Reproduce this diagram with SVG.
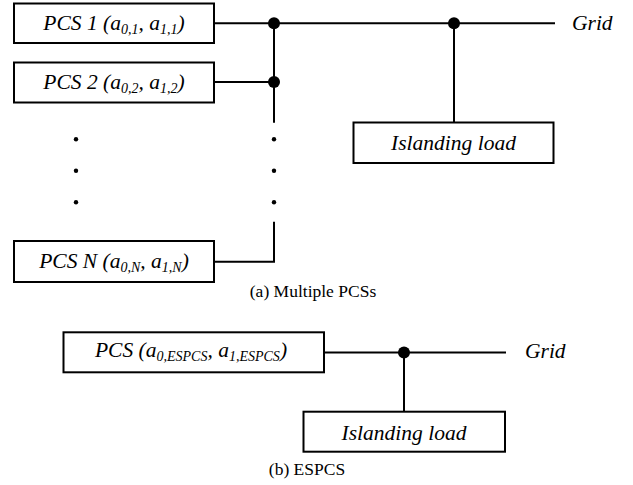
<svg xmlns="http://www.w3.org/2000/svg" width="633" height="485" viewBox="0 0 633 485">
<style>
.box{fill:#fff;stroke:#000;stroke-width:2}
.w{fill:none;stroke:#000;stroke-width:2}
text{font-family:'Liberation Serif','DejaVu Serif',serif;fill:#000}
.t{font-style:italic;font-size:21.5px}
.c{font-size:17.5px}
.s{font-size:14px}
</style>
<rect width="633" height="485" fill="#fff"/>
<g id="connectors">
<polyline class="w" points="214,23.3 555,23.3"/>
<polyline class="w" points="214,82 274,82"/>
<polyline class="w" points="274,23.3 274,122.7"/>
<polyline class="w" points="214,261.7 274,261.7 274,221.7"/>
<polyline class="w" points="454,23.3 454,122.7"/>
<polyline class="w" points="324,352.5 506,352.5"/>
<polyline class="w" points="404,352.5 404,411.7"/>
<circle cx="274" cy="23.3" r="6"/>
<circle cx="274" cy="82" r="6"/>
<circle cx="454" cy="23.3" r="6"/>
<circle cx="404" cy="352.5" r="6"/>
<circle cx="76" cy="139.3" r="2.2"/>
<circle cx="76" cy="170.7" r="2.2"/>
<circle cx="76" cy="202.3" r="2.2"/>
<circle cx="274" cy="139.3" r="2.2"/>
<circle cx="274" cy="170.7" r="2.2"/>
<circle cx="274" cy="202.3" r="2.2"/>
</g>
<g id="pcs1">
<rect class="box" x="14" y="3.5" width="200" height="39.5"/>
<text class="t" font-family="Liberation Serif" x="114" y="29.5" text-anchor="middle">PCS 1 (a<tspan class="s" dy="4">0,1</tspan><tspan dy="-4">, a</tspan><tspan class="s" dy="4">1,1</tspan><tspan dy="-4">)</tspan></text>
</g>
<g id="pcs2">
<rect class="box" x="14" y="62.5" width="200" height="40"/>
<text class="t" font-family="Liberation Serif" x="114" y="88.7" text-anchor="middle">PCS 2 (a<tspan class="s" dy="4">0,2</tspan><tspan dy="-4">, a</tspan><tspan class="s" dy="4">1,2</tspan><tspan dy="-4">)</tspan></text>
</g>
<g id="pcsN">
<rect class="box" x="14" y="241" width="200" height="41"/>
<text class="t" font-family="Liberation Serif" x="114" y="267.5" text-anchor="middle">PCS N (a<tspan class="s" dy="4">0,N</tspan><tspan dy="-4">, a</tspan><tspan class="s" dy="4">1,N</tspan><tspan dy="-4">)</tspan></text>
</g>
<g id="load1">
<rect class="box" x="353.5" y="122.5" width="200" height="40.5"/>
<text class="t" font-family="Liberation Serif" x="453.5" y="150" text-anchor="middle">Islanding load</text>
</g>
<g id="grid1">
<text class="t" font-family="Liberation Serif" x="572" y="29.5">Grid</text>
</g>
<text class="c" font-family="Liberation Serif" x="313" y="297" text-anchor="middle">(a) Multiple PCSs</text>
<g id="pcsE">
<rect class="box" x="63.5" y="332.3" width="260.5" height="40"/>
<text class="t" font-family="Liberation Serif" x="191" y="357.3" text-anchor="middle">PCS (a<tspan class="s" dy="4">0,ESPCS</tspan><tspan dy="-4">, a</tspan><tspan class="s" dy="4">1,ESPCS</tspan><tspan dy="-4">)</tspan></text>
</g>
<g id="load2">
<rect class="box" x="303.5" y="411.7" width="201.5" height="40"/>
<text class="t" font-family="Liberation Serif" x="404" y="440" text-anchor="middle">Islanding load</text>
</g>
<g id="grid2">
<text class="t" font-family="Liberation Serif" x="525" y="358">Grid</text>
</g>
<text class="c" font-family="Liberation Serif" x="307" y="475" text-anchor="middle">(b) ESPCS</text>
</svg>
